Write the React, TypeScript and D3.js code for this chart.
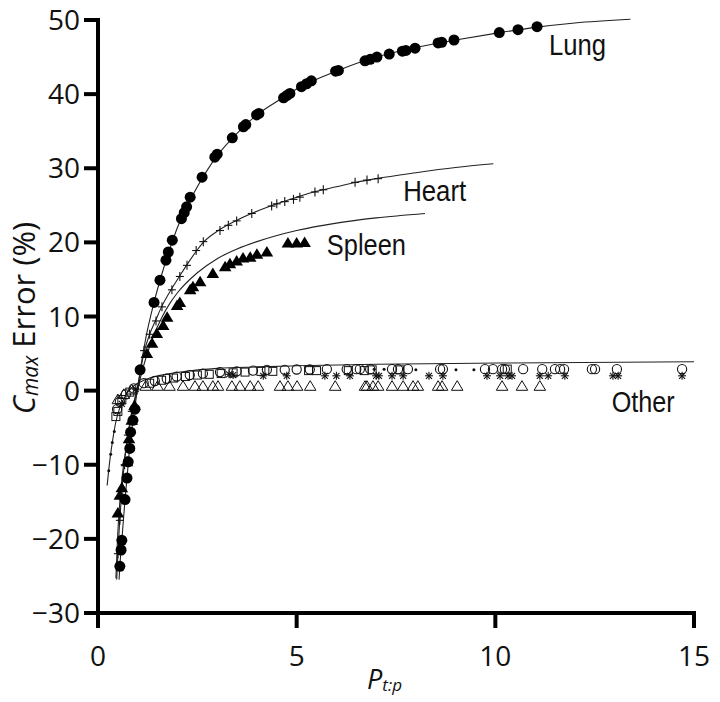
import React from "react";
import * as d3 from "d3";

// ---- data ----
const xTicks = [0, 5, 10, 15];
const yTicks = [-30, -20, -10, 0, 10, 20, 30, 40, 50];

const lungPoints: [number, number][] = [
  [0.55, -23.7], [0.58, -21.5], [0.6, -20.2], [0.68, -14.7], [0.73, -11.8], [0.76, -9.6],
  [0.8, -7.8], [0.82, -5.6], [0.88, -4.0], [0.93, -2.5], [1.06, 2.8], [1.41, 11.9],
  [1.56, 14.9], [1.71, 17.6], [1.77, 18.7], [1.87, 20.3], [2.1, 23.2], [2.17, 24.0],
  [2.23, 24.8], [2.32, 26.1], [2.62, 28.8], [2.94, 31.5], [3.0, 31.9], [3.38, 34.1],
  [3.66, 35.6], [3.72, 35.9], [3.99, 37.2], [4.05, 37.4], [4.67, 39.5], [4.75, 39.8],
  [4.83, 40.1], [5.12, 41.0], [5.25, 41.4], [5.37, 41.8], [5.98, 43.1], [6.05, 43.2],
  [6.72, 44.5], [6.85, 44.7], [7.02, 45.0], [7.33, 45.4], [7.66, 45.8], [7.75, 45.9],
  [7.98, 46.2], [8.56, 46.9], [8.65, 47.0], [8.96, 47.3], [10.1, 48.3], [10.57, 48.7],
  [11.05, 49.1],
];
const lungCurve: [number, number][] = [
  [0.53, -25.5], [0.55, -23.7], [0.6, -20.2], [0.68, -14.7], [0.73, -11.8], [0.8, -7.5],
  [0.9, -3.3], [1.0, 0.5], [1.1, 4.0], [1.2, 7.0], [1.4, 11.7], [1.6, 15.6], [1.8, 19.0],
  [2.0, 22.0], [2.25, 25.0], [2.5, 27.5], [3.0, 31.7], [3.5, 34.7], [4.0, 37.2], [4.5, 39.0],
  [5.0, 40.7], [6.0, 43.1], [7.0, 45.0], [8.0, 46.3], [9.0, 47.3], [10.0, 48.2], [11.0, 49.0],
  [12.0, 49.6], [13.4, 50.1],
];

const heartPoints: [number, number][] = [
  [0.5, -22.0], [0.55, -17.5], [0.6, -14.0], [0.67, -10.0], [0.75, -6.0], [0.85, -2.8],
  [1.16, 5.4], [1.3, 7.6], [1.46, 9.4], [1.61, 11.3], [1.86, 13.6], [2.06, 15.4], [2.24, 16.9],
  [2.47, 18.9], [2.65, 20.1], [3.07, 21.6], [3.28, 22.3], [3.49, 22.9], [3.87, 23.9],
  [4.37, 24.9], [4.5, 25.2], [4.7, 25.5], [4.92, 25.8], [5.08, 26.1], [5.46, 26.8],
  [5.67, 27.1], [6.47, 28.1], [6.77, 28.4], [7.05, 28.6],
];
const heartCurve: [number, number][] = [
  [0.47, -25.5], [0.52, -20.0], [0.58, -15.0], [0.65, -10.5], [0.75, -6.0], [0.85, -2.8],
  [0.95, -0.5], [1.0, 0.6], [1.16, 5.2], [1.3, 7.6], [1.46, 9.6], [1.6, 11.3], [1.86, 13.8],
  [2.06, 15.5], [2.24, 17.0], [2.5, 19.0], [2.65, 20.0], [3.0, 21.5], [3.5, 23.0],
  [4.0, 24.2], [4.5, 25.2], [5.0, 26.1], [5.5, 26.9], [6.0, 27.5], [6.5, 28.1], [7.0, 28.6],
  [8.0, 29.4], [9.0, 30.1], [9.95, 30.6],
];

const spleenPoints: [number, number][] = [
  [0.5, -16.5], [0.55, -14.1], [0.6, -13.1], [0.73, -9.6], [0.78, -6.5], [0.85, -4.0],
  [0.92, -2.0], [1.23, 5.0], [1.36, 6.4], [1.48, 7.7], [1.64, 8.8], [1.74, 9.9], [1.99, 11.5],
  [2.06, 11.9], [2.32, 13.6], [2.39, 14.0], [2.57, 14.7], [2.89, 15.8], [3.2, 16.7],
  [3.32, 17.1], [3.49, 17.5], [3.65, 17.9], [3.83, 18.0], [4.0, 18.4], [4.25, 18.7],
  [4.78, 19.9], [5.0, 19.9], [5.2, 20.0],
];
const spleenCurve: [number, number][] = [
  [0.45, -25.3], [0.5, -19.0], [0.55, -15.0], [0.6, -12.0], [0.7, -8.0], [0.8, -4.8],
  [0.9, -2.0], [1.0, 0.3], [1.2, 4.3], [1.4, 7.4], [1.6, 9.8], [1.8, 11.7], [2.0, 13.2],
  [2.5, 15.9], [3.0, 17.8], [3.5, 19.1], [4.0, 20.1], [5.0, 21.6], [6.0, 22.6], [7.0, 23.3],
  [8.23, 23.9],
];

const otherCurve: [number, number][] = [
  [0.23, -12.8], [0.3, -9.3], [0.38, -6.3], [0.45, -4.2], [0.55, -2.3], [0.7, -0.6],
  [0.85, 0.4], [1.0, 1.0], [1.3, 1.7], [1.7, 2.2], [2.2, 2.6], [3.0, 3.0], [4.0, 3.2],
  [5.0, 3.35], [7.0, 3.55], [10.0, 3.72], [15.0, 3.9],
];
const otherCircles: [number, number][] = [
  [0.48, -2.5], [0.55, -1.5], [0.7, -0.5], [0.9, 0.3], [1.15, 1.0], [1.43, 1.3], [1.73, 1.6],
  [1.98, 1.9], [2.31, 2.1], [2.64, 2.3], [3.07, 2.5], [3.49, 2.6], [3.9, 2.7], [4.25, 2.8],
  [4.7, 2.8], [5.0, 2.85], [5.33, 2.85], [5.76, 2.9], [6.26, 2.9], [6.5, 2.9], [6.59, 2.9],
  [6.85, 2.9], [7.4, 2.9], [7.55, 2.9], [7.8, 2.9], [8.61, 2.9], [8.68, 2.9], [9.74, 2.9],
  [9.94, 2.9], [10.17, 2.9], [10.24, 2.9], [10.7, 2.9], [11.18, 2.9], [11.5, 2.9],
  [11.63, 2.9], [11.73, 2.9], [12.43, 2.9], [12.51, 2.9], [13.06, 2.9], [14.7, 2.9],
];
const otherSquares: [number, number][] = [
  [0.45, -3.5], [0.5, -2.8], [0.6, -1.2], [0.8, -0.2], [1.3, 1.0], [1.6, 1.4], [1.9, 1.7],
  [2.2, 1.9], [2.5, 2.1], [2.8, 2.2], [3.1, 2.3], [3.4, 2.4], [3.7, 2.5], [4.1, 2.6],
  [4.4, 2.6], [5.3, 2.7], [5.5, 2.7], [6.3, 2.7], [6.7, 2.7], [6.9, 2.8], [7.6, 2.8],
  [10.3, 2.9],
];
const otherStars: [number, number][] = [
  [0.6, -1.8], [0.95, 0.2], [3.3, 2.2], [3.4, 2.1], [4.16, 2.0], [4.75, 2.0], [5.71, 2.0],
  [6.0, 2.0], [6.34, 2.0], [7.0, 2.0], [7.07, 2.0], [7.4, 2.0], [7.68, 2.0], [8.33, 2.0],
  [8.68, 2.0], [9.79, 2.0], [10.12, 2.0], [10.32, 2.0], [10.42, 2.0], [11.12, 2.0],
  [11.33, 2.0], [11.75, 2.0], [12.96, 2.0], [13.09, 2.0], [14.7, 2.0],
];
const otherTriangles: [number, number][] = [
  [0.5, -1.2], [0.65, -0.5], [0.85, 0.1], [1.2, 0.6], [1.5, 0.6], [1.8, 0.6], [2.14, 0.6],
  [2.44, 0.6], [2.64, 0.6], [2.89, 0.6], [3.02, 0.6], [3.37, 0.6], [3.57, 0.6], [3.83, 0.6],
  [4.03, 0.6], [4.58, 0.6], [4.78, 0.6], [5.01, 0.6], [5.34, 0.6], [5.97, 0.6], [6.72, 0.6],
  [6.77, 0.6], [6.92, 0.6], [7.05, 0.6], [7.4, 0.6], [7.68, 0.6], [7.93, 0.6], [8.05, 0.6],
  [8.56, 0.6], [8.66, 0.6], [9.04, 0.6], [10.17, 0.6], [10.67, 0.6], [11.12, 0.6],
];
const otherDots: [number, number][] = [
  [0.27, -10.8], [0.32, -8.6], [0.36, -7.0], [0.41, -5.5], [6.95, 2.9], [7.2, 2.9],
  [8.0, 2.8], [9.01, 2.8], [9.46, 2.8],
];

const seriesLabels = [
  { text: "Lung", x: 11.35, y: 45.3, w: 57 },
  { text: "Heart", x: 7.68, y: 25.6, w: 63 },
  { text: "Spleen", x: 5.76, y: 18.3, w: 79 },
  { text: "Other", x: 12.93, y: -2.9, w: 63 },
];

// ---- layout ----
const W = 720;
const H = 702;
const x = d3.scaleLinear().domain([0, 15]).range([98, 694]);
const y = d3.scaleLinear().domain([-30, 50]).range([613, 20]);

const line = d3
  .line<[number, number]>()
  .x((d) => x(d[0]))
  .y((d) => y(d[1]))
  .curve(d3.curveMonotoneX);

const triUp = (r: number) => `M0,${-r} L${r * 1.05},${r * 0.75} L${-r * 1.05},${r * 0.75} Z`;

export default function App() {
  const tickFont = "'Open Sans', 'DejaVu Sans', sans-serif";
  const labelFont = "'Liberation Sans', Arial, sans-serif";
  return (
    <svg
      width={W}
      height={H}
      viewBox={`0 0 ${W} ${H}`}
      style={{ position: "absolute", left: 0, top: 0, background: "#fff" }}
    >
      {/* fitted curves */}
      <g fill="none" stroke="#222" strokeWidth={1.1}>
        <path d={line(otherCurve) || ""} />
        <path d={line(spleenCurve) || ""} />
        <path d={line(heartCurve) || ""} />
        <path d={line(lungCurve) || ""} />
      </g>

      {/* Other: open triangles */}
      <g fill="none" stroke="#111" strokeWidth={1}>
        {otherTriangles.map((d, i) => (
          <path key={i} d={triUp(5.5)} transform={`translate(${x(d[0])},${y(d[1])})`} />
        ))}
      </g>
      {/* Other: open squares */}
      <g fill="none" stroke="#111" strokeWidth={1}>
        {otherSquares.map((d, i) => (
          <rect key={i} x={x(d[0]) - 4} y={y(d[1]) - 4} width={8} height={8} />
        ))}
      </g>
      {/* Other: open circles */}
      <g fill="none" stroke="#111" strokeWidth={1.1}>
        {otherCircles.map((d, i) => (
          <circle key={i} cx={x(d[0])} cy={y(d[1])} r={4.6} />
        ))}
      </g>
      {/* Other: asterisks */}
      <g stroke="#111" strokeWidth={1.1}>
        {otherStars.map((d, i) => (
          <g key={i} transform={`translate(${x(d[0])},${y(d[1])})`}>
            <line x1={-4} y1={0} x2={4} y2={0} />
            <line x1={0} y1={-4} x2={0} y2={4} />
            <line x1={-3} y1={-3} x2={3} y2={3} />
            <line x1={-3} y1={3} x2={3} y2={-3} />
          </g>
        ))}
      </g>
      {/* Other: small dots */}
      <g fill="#111">
        {otherDots.map((d, i) => (
          <circle key={i} cx={x(d[0])} cy={y(d[1])} r={1.5} />
        ))}
      </g>

      {/* Spleen: filled triangles */}
      <g fill="#000">
        {spleenPoints.map((d, i) => (
          <path key={i} d={triUp(6)} transform={`translate(${x(d[0])},${y(d[1])})`} />
        ))}
      </g>

      {/* Heart: plus markers */}
      <g stroke="#111" strokeWidth={1.1}>
        {heartPoints.map((d, i) => (
          <g key={i} transform={`translate(${x(d[0])},${y(d[1])})`}>
            <line x1={-4} y1={0} x2={4} y2={0} />
            <line x1={0} y1={-4.5} x2={0} y2={4.5} />
          </g>
        ))}
      </g>

      {/* Lung: filled circles */}
      <g fill="#000">
        {lungPoints.map((d, i) => (
          <circle key={i} cx={x(d[0])} cy={y(d[1])} r={5.5} />
        ))}
      </g>

      {/* series labels */}
      <g fontFamily={labelFont} fontSize={29} fill="#111">
        {seriesLabels.map((l) => (
          <text key={l.text} x={x(l.x)} y={y(l.y)} textLength={l.w} lengthAdjust="spacingAndGlyphs">
            {l.text}
          </text>
        ))}
      </g>

      {/* axes */}
      <g stroke="#000" strokeWidth={4} fill="none">
        <line x1={x(0)} y1={y(50) - 2} x2={x(0)} y2={y(-30) + 2} />
        <line x1={x(0) - 4} y1={y(-30)} x2={x(15) + 2} y2={y(-30)} />
        {yTicks.map((t) => (
          <line key={"yt" + t} x1={x(0) - 14} y1={y(t)} x2={x(0)} y2={y(t)} />
        ))}
        {xTicks.map((t) => (
          <line key={"xt" + t} x1={x(t)} y1={y(-30)} x2={x(t)} y2={y(-30) + 15} />
        ))}
      </g>
      <g fontFamily={tickFont} fontSize={28} fill="#111">
        {yTicks.map((t) => (
          <text key={"yl" + t} x={80} y={y(t) + 10} textAnchor="end">
            {d3.format("d")(t)}
          </text>
        ))}
        {xTicks.map((t) => (
          <text key={"xl" + t} x={x(t)} y={666} textAnchor="middle">
            {t}
          </text>
        ))}
      </g>

      {/* axis titles */}
      <text x={367} y={689} fontFamily={tickFont} fontSize={27} fill="#111">
        <tspan fontStyle="italic">P</tspan>
        <tspan fontStyle="italic" fontSize={17} dy={2}>t:p</tspan>
      </text>
      <text
        transform={`translate(35, 318) rotate(-90)`}
        textAnchor="middle"
        fontFamily={tickFont}
        fontSize={31}
        fill="#111"
      >
        <tspan fontStyle="italic">C</tspan>
        <tspan fontStyle="italic" fontSize={21} dy={3}>max</tspan>
        <tspan dy={-3}> Error (%)</tspan>
      </text>
    </svg>
  );
}
